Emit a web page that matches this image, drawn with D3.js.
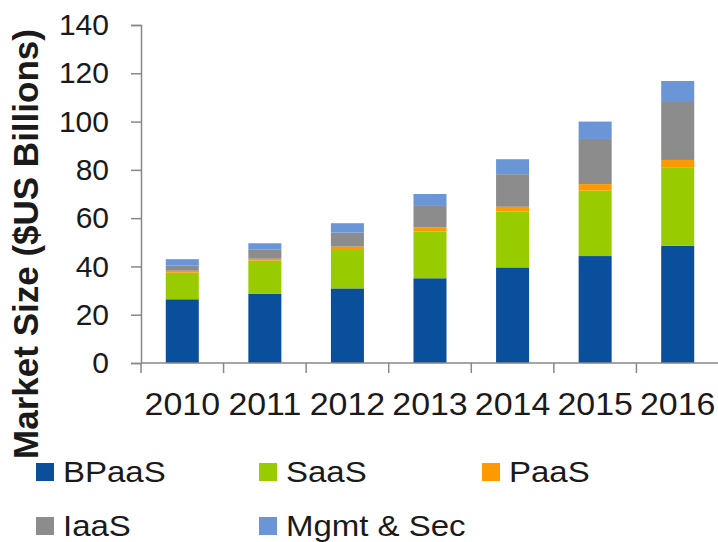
<!DOCTYPE html>
<html>
<head>
<meta charset="utf-8">
<script src="https://cdn.jsdelivr.net/npm/d3@7"></script>
<style>
    body { margin: 0; background: #fff; }
    text { font-family: "Liberation Sans", Arial, sans-serif; fill: #1a1a1a; }
</style>
</head>
<body>
<div id="container"></div>
<script>
const years = ['2010', '2011', '2012', '2013', '2014', '2015', '2016'];
const seriesNames = ['BPaaS', 'SaaS', 'PaaS', 'IaaS', 'Mgmt & Sec'];
const bpaas = [26.4, 28.6, 30.9, 35.1, 39.6, 44.3, 48.6];
const saas = [11.0, 13.8, 15.9, 19.3, 23.1, 27.1, 32.5];
const paas = [0.8, 0.8, 1.4, 1.8, 2.0, 2.7, 3.0];
const iaas = [2.1, 3.9, 5.8, 9.2, 13.5, 18.7, 24.4];
const mgmt = [2.7, 2.5, 3.9, 4.6, 6.2, 7.2, 8.3];
const yTicks = [0, 20, 40, 60, 80, 100, 120, 140];

const colors = ['#0a4f9c', '#99cc00', '#ff9900', '#8c8c8c', '#6a96d8'];

const width = 718;
const height = 542;
const plot = { left: 141, right: 719, top: 25, bottom: 363 };

const rows = years.map((y, i) => ({
    year: y,
    'BPaaS': bpaas[i],
    'SaaS': saas[i],
    'PaaS': paas[i],
    'IaaS': iaas[i],
    'Mgmt & Sec': mgmt[i]
}));

const stacked = d3.stack().keys(seriesNames)(rows);

const x = d3.scaleBand()
    .domain(years)
    .range([plot.left, plot.right])
    .paddingInner(0.6)
    .paddingOuter(0.3);

const y = d3.scaleLinear()
    .domain([0, 140])
    .range([plot.bottom, plot.top]);

const svg = d3.select('#container')
    .append('svg')
    .attr('width', width)
    .attr('height', height);

// bars
svg.append('g')
    .selectAll('g')
    .data(stacked).enter()
    .append('g')
    .attr('fill', (d, i) => colors[i])
    .selectAll('rect')
    .data(d => d).enter()
    .append('rect')
    .attr('x', d => x(d.data.year))
    .attr('width', x.bandwidth())
    .attr('y', d => y(d[1]))
    .attr('height', d => y(d[0]) - y(d[1]));

// y axis
const yAxis = svg.append('g')
    .attr('transform', `translate(${plot.left},0)`)
    .call(d3.axisLeft(y).tickValues(yTicks).tickSize(10).tickPadding(22));

yAxis.select('.domain').attr('stroke', '#888').attr('stroke-width', 1.5);
yAxis.selectAll('.tick line').attr('stroke', '#888').attr('stroke-width', 1.5);
yAxis.selectAll('.tick text')
    .attr('font-size', 30)
    .attr('font-family', '"Liberation Sans", Arial, sans-serif')
    .attr('fill', '#1a1a1a');

// x axis (ticks between categories)
const step = x.step();
const xAxis = svg.append('g');
xAxis.append('line')
    .attr('x1', plot.left)
    .attr('x2', plot.right)
    .attr('y1', y(0))
    .attr('y2', y(0))
    .attr('stroke', '#888')
    .attr('stroke-width', 1.5);

xAxis.selectAll('.xtick')
    .data(d3.range(years.length + 1)).enter()
    .append('line')
    .attr('class', 'xtick')
    .attr('x1', i => plot.left + i * step)
    .attr('x2', i => plot.left + i * step)
    .attr('y1', y(0))
    .attr('y2', y(0) + 10)
    .attr('stroke', '#888')
    .attr('stroke-width', 1.5);

xAxis.selectAll('.xlabel')
    .data(years).enter()
    .append('text')
    .attr('class', 'xlabel')
    .attr('transform', d => `translate(${x(d) + x.bandwidth() / 2},415) scale(1.06,1)`)
    .attr('text-anchor', 'middle')
    .attr('font-size', 32)
    .text(d => d);

// y title
svg.append('text')
    .attr('transform', 'translate(38,244) rotate(-90)')
    .attr('text-anchor', 'middle')
    .attr('font-size', 35)
    .attr('font-weight', 'bold')
    .attr('fill', '#000')
    .text('Market Size ($US Billions)');

// legend
const legend = svg.append('g')
    .selectAll('g')
    .data(seriesNames).enter()
    .append('g')
    .attr('transform', (d, i) => `translate(${36 + (i % 3) * 223},${463 + Math.floor(i / 3) * 54})`);

legend.append('rect')
    .attr('width', 18)
    .attr('height', 18)
    .attr('fill', (d, i) => colors[i]);

legend.append('text')
    .attr('transform', 'translate(27,19) scale(1.1,1)')
    .attr('font-size', 30)
    .text(d => d);
</script>
</body>
</html>
